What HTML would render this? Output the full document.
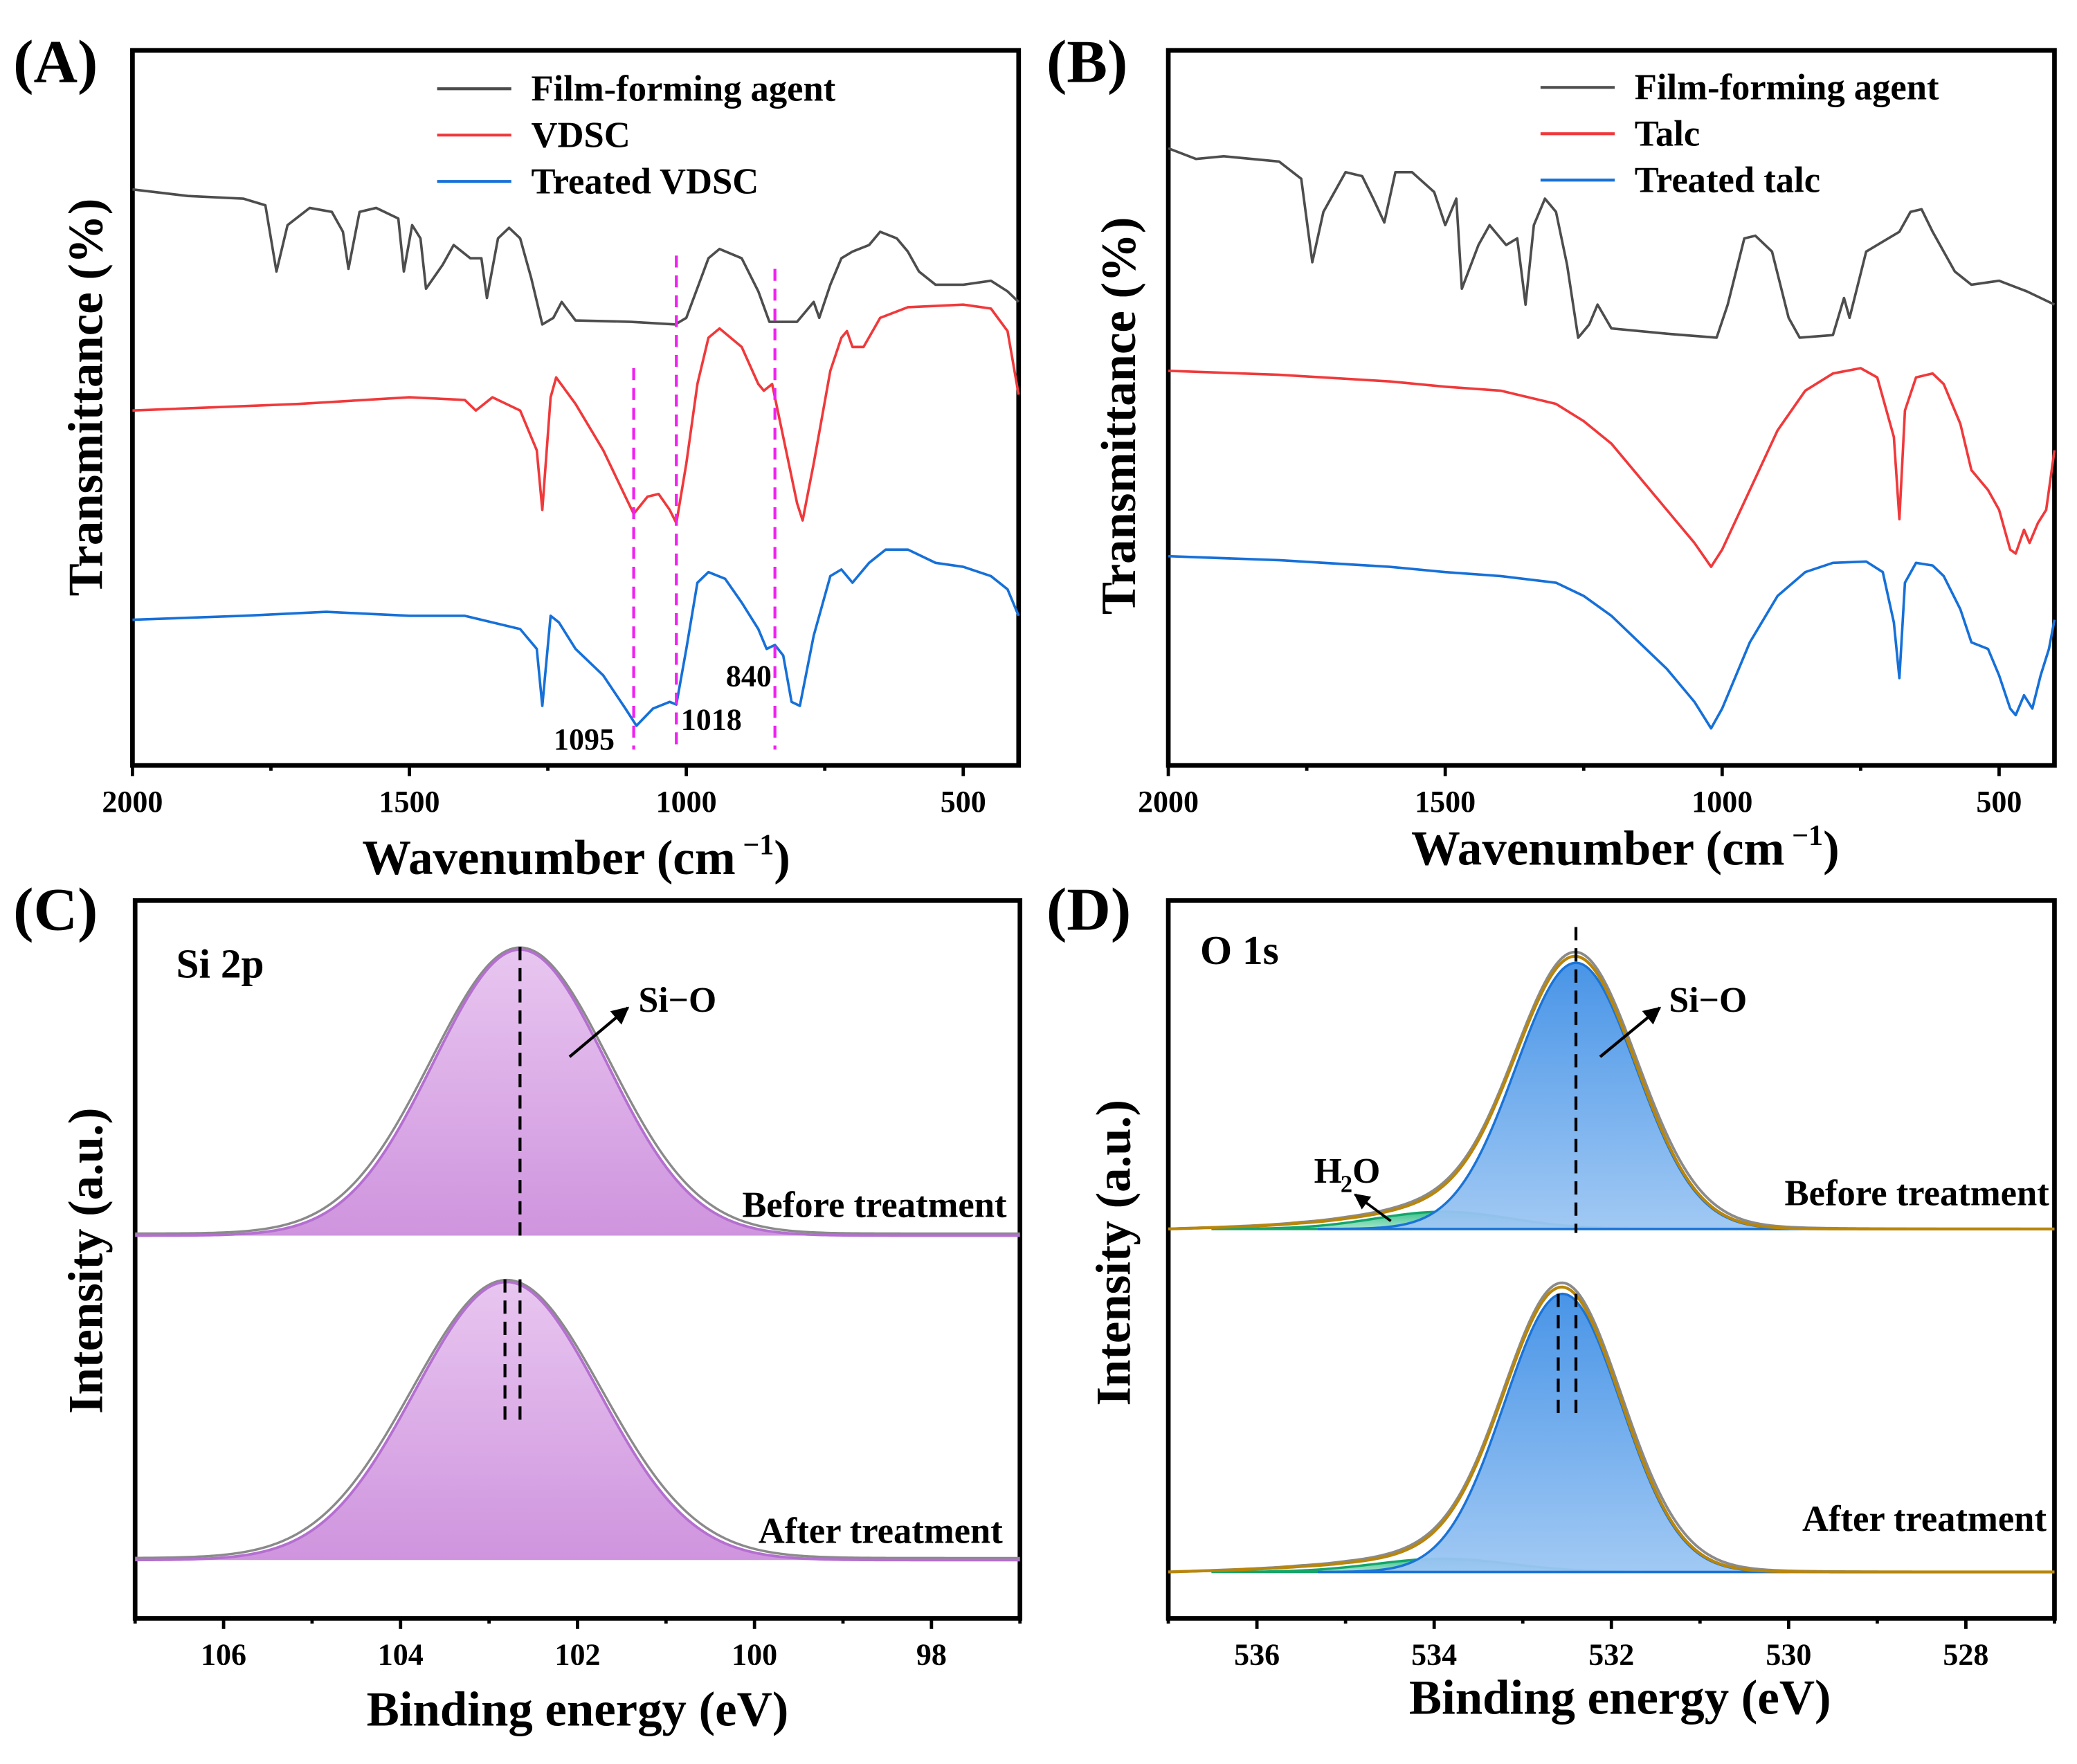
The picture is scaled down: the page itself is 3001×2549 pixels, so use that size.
<!DOCTYPE html>
<html><head><meta charset="utf-8"><style>
html,body{margin:0;padding:0;background:#fff;}
svg{display:block;}
text{font-family:"Liberation Serif",serif;font-weight:bold;fill:#000;}
</style></head><body>
<svg id="fig" width="3001" height="2549" viewBox="0 0 1568 1332" preserveAspectRatio="none" xmlns="http://www.w3.org/2000/svg">
<defs>
<linearGradient id="gPurple" x1="0" y1="0" x2="0" y2="1"><stop offset="0" stop-color="#e8c6f0"/><stop offset="1" stop-color="#cf94de"/></linearGradient>
<linearGradient id="gBlue" x1="0" y1="0" x2="0" y2="1"><stop offset="0" stop-color="#3f8fe6"/><stop offset="1" stop-color="#9cc6f3"/></linearGradient>
<linearGradient id="gGreen" x1="0" y1="0" x2="0" y2="1"><stop offset="0" stop-color="#3ec38e"/><stop offset="1" stop-color="#a6e6cc"/></linearGradient>
<marker id="arr" viewBox="0 0 10 10" refX="9" refY="5" markerWidth="6" markerHeight="6" orient="auto"><path d="M0,0 L10,5 L0,10 z" fill="#000"/></marker>
</defs>
</svg>
<script>
// ---------- FTIR data (wavenumber cm-1, transmittance a.u.) ----------
const wnA_film=[2000,1900,1800,1760,1740,1720,1680,1640,1620,1610,1590,1560,1520,1510,1495,1480,1470,1440,1420,1390,1370,1360,1340,1320,1300,1280,1260,1240,1225,1200,1100,1020,1000,960,940,900,870,850,800,770,760,740,720,700,670,650,620,600,580,550,500,450,420,400];
const tA_film=[435,430,428,423,373,408,421,418,403,375,418,421,413,373,408,398,360,378,393,383,383,353,398,406,398,368,333,338,350,336,335,333,338,383,390,383,358,335,335,350,338,363,383,388,393,403,398,388,373,363,363,366,358,350];
const wnA_vdsc=[2000,1700,1500,1400,1380,1350,1300,1270,1260,1245,1235,1200,1150,1110,1095,1070,1050,1030,1018,1000,980,960,940,900,870,860,845,830,800,790,770,740,720,710,700,680,650,600,500,450,420,400];
const tA_vdsc=[268,273,278,276,268,278,268,238,193,278,293,273,238,203,190,203,205,193,183,228,288,323,330,316,288,283,288,258,198,185,228,298,323,328,316,316,338,346,348,345,328,280];
const wnA_trt=[2000,1800,1650,1500,1400,1300,1270,1260,1245,1230,1200,1150,1110,1090,1060,1030,1018,1000,980,960,930,900,870,855,840,825,810,795,770,740,720,700,670,640,600,550,500,450,420,400];
const tA_trt=[110,113,116,113,113,103,88,45,113,108,88,68,43,30,43,48,46,88,138,146,141,123,103,88,91,83,48,45,98,143,148,138,153,163,163,153,150,143,133,113];
const wnB_film=[2000,1950,1900,1800,1760,1740,1720,1680,1650,1630,1610,1590,1560,1520,1500,1480,1470,1440,1420,1390,1370,1355,1340,1320,1300,1280,1260,1240,1225,1200,1100,1010,990,960,940,910,880,860,800,780,770,740,700,680,660,640,620,600,580,550,500,450,400];
const tB_film=[466,458,460,456,443,380,418,448,445,428,410,448,448,433,408,428,360,393,408,393,398,348,408,428,418,378,323,333,348,330,326,323,348,398,400,388,338,323,325,353,338,388,398,403,418,420,403,388,373,363,366,358,348];
const wnB_talc=[2000,1800,1600,1500,1400,1300,1250,1200,1150,1100,1050,1020,1000,950,900,850,800,750,720,690,680,670,650,620,600,570,550,520,500,480,470,455,445,430,415,400];
const tB_talc=[298,295,290,286,283,273,260,243,218,193,168,150,163,208,253,283,296,300,293,248,186,268,293,296,288,258,223,208,193,163,160,178,168,183,193,238];
const wnB_trt=[2000,1800,1600,1500,1400,1300,1250,1200,1150,1100,1050,1020,1000,950,900,850,800,740,710,690,680,670,650,620,600,570,550,520,500,480,470,455,440,425,410,400];
const tB_trt=[158,155,150,146,143,138,128,113,93,73,48,28,43,93,128,146,153,154,146,108,66,138,153,151,143,118,93,88,68,43,38,53,43,68,88,110];
const peaksA=[1095,1018,840];
const tickWN=[2000,1500,1000,500];
// ---------- XPS fit parameters (eV, intensity a.u., FWHM eV) ----------
const si_center=[102.65,102.80];
const si_height=[216,210];
const si_fwhm=[2.3,2.45];
const si_base=[289,44];
const o_main_center=[532.4,532.55];
const o_main_height=[201,210];
const o_fwhm=[1.6,1.55];
const o_h2o_center=[533.9,533.9];
const o_h2o_height=[13,10];
const o_h2o_fwhm=[1.8,1.8];
const o_base=[294,35];
const siDash=[[102.65],[102.82,102.65]];
const oDash=[[532.4],[532.6,532.4]];
const tickSi=[106,104,102,100,98];
const tickO=[536,534,532,530,528];

const NS="http://www.w3.org/2000/svg";
const svg=document.getElementById('fig');
function el(tag,attrs,parent){const e=document.createElementNS(NS,tag);for(const k in attrs)e.setAttribute(k,attrs[k]);(parent||svg).appendChild(e);return e;}
function txt(x,y,s,size,parent,anchor){const t=el('text',{x:x,y:y,'font-size':size,'text-anchor':anchor||'start'},parent);t.textContent=s;return t;}
function supTitle(x,y,name){
  const t=el('text',{x:x,y:y,'font-size':37,'text-anchor':'middle'});
  
  
  const a=el('tspan',{},t);a.textContent='Wavenumber (cm';
  const b=el('tspan',{dy:-15,'font-size':22},t);b.textContent=' −1';
  const c=el('tspan',{dy:15},t);c.textContent=')';
  return t;
}

function panel(box,xd,yd){
  return {box:box,
    sx:v=>box.x0+(v-xd[0])/(xd[1]-xd[0])*(box.x1-box.x0),
    sy:v=>box.y1-(v-yd[0])/(yd[1]-yd[0])*(box.y1-box.y0)};
}
function frame(p,name,ticks,minorStep,xd){
  const g=el('g',{});
  
  
  const b=p.box;
  el('rect',{x:b.x0,y:b.y0,width:b.x1-b.x0,height:b.y1-b.y0,fill:'none',stroke:'#000','stroke-width':3.5},g);
  const lo=Math.min(xd[0],xd[1]),hi=Math.max(xd[0],xd[1]);
  for(let v=Math.ceil(lo/minorStep)*minorStep;v<=hi;v+=minorStep){
    const major=ticks.includes(Math.round(v*100)/100);
    const x=p.sx(v);
    el('line',{x1:x,x2:x,y1:b.y1,y2:b.y1+(major?8:4),stroke:'#000','stroke-width':2.5},g);
  }
  ticks.forEach(v=>{const t=txt(p.sx(v),b.y1+35,String(v),23,g,'middle');});
  return g;
}
function linePath(p,xs,ys,color,name,w){
  let d='';xs.forEach((x,i)=>{d+=(i?'L':'M')+p.sx(x).toFixed(2)+','+p.sy(ys[i]).toFixed(2);});
  const e=el('path',{d:d,fill:'none',stroke:color,'stroke-width':w||1.9,'stroke-linejoin':'round'});
  
  
  return e;
}
function legend(x,y,items){
  items.forEach((it,i)=>{
    const l=el('line',{x1:x,x2:x+56,y1:y+i*35,y2:y+i*35,stroke:it[1],'stroke-width':2.2});
    
    
    const t=txt(x+71,y+i*35+9,it[0],27.5);
    
    
  });
}

// ---- Panel A ----
const pA=panel({x0:100,x1:769,y0:38,y1:578},[2000,400],[0,540]);
frame(pA,'panel-a',tickWN,250,[2000,400]);
linePath(pA,wnA_film,tA_film,'#4d4d4d','film-agent-curve-a');
linePath(pA,wnA_vdsc,tA_vdsc,'#f0393b','vdsc-curve');
linePath(pA,wnA_trt,tA_trt,'#1670d8','treated-vdsc-curve');
const dashTop=[300,385,375];
peaksA.forEach((w,i)=>{const l=el('line',{x1:pA.sx(w),x2:pA.sx(w),y1:pA.sy(dashTop[i]),y2:pA.sy(12),stroke:'#f020f0','stroke-width':2.2,'stroke-dasharray':'9,6'});
  });
txt(418,566,'1095',23);txt(514,551,'1018',23);txt(548,518,'840',23);
legend(330,67,[['Film-forming agent','#4d4d4d'],['VDSC','#f0393b'],['Treated VDSC','#1670d8']]);
txt(10,62,'(A)',46);
const ytA=txt(0,0,'Transmittance (%)',37,null,'middle');ytA.setAttribute('transform','translate(77,300) rotate(-90)');
supTitle(435,660,'x-axis-title-a');

// ---- Panel B ----
const pB=panel({x0:882,x1:1551,y0:38,y1:578},[2000,400],[0,540]);
frame(pB,'panel-b',tickWN,250,[2000,400]);
linePath(pB,wnB_film,tB_film,'#4d4d4d','film-agent-curve-b');
linePath(pB,wnB_talc,tB_talc,'#f0393b','talc-curve');
linePath(pB,wnB_trt,tB_trt,'#1670d8','treated-talc-curve');
legend(1163,66,[['Film-forming agent','#4d4d4d'],['Talc','#f0393b'],['Treated talc','#1670d8']]);
txt(790,62,'(B)',46);
const ytB=txt(0,0,'Transmittance (%)',37,null,'middle');ytB.setAttribute('transform','translate(857,314) rotate(-90)');
supTitle(1227,653,'x-axis-title-b');

// ---- XPS helpers ----
function gauss(x,c,h,f){const s=f/2.3548;return h*Math.exp(-0.5*((x-c)/s)**2);}
function curve(p,xd,fn,n){const pts=[];for(let i=0;i<=n;i++){const x=xd[0]+(xd[1]-xd[0])*i/n;pts.push([p.sx(x),p.sy(fn(x))]);}return pts;}
function pathFrom(pts){return pts.map((q,i)=>(i?'L':'M')+q[0].toFixed(2)+','+q[1].toFixed(2)).join('');}

// ---- Panel C ----
const pC=panel({x0:102,x1:770,y0:680,y1:1222},[107,97],[0,542]);
frame(pC,'panel-c',tickSi,1,[107,97]);
for(let k=0;k<2;k++){
  const b=si_base[k],c=si_center[k],h=si_height[k],f=si_fwhm[k];
  const raw=x=>b+gauss(x,c,h,f*1.03)+1.5;
  const fit=x=>b+gauss(x,c,h,f);
  const pts=curve(pC,[107,97],fit,300);
  const area=el('path',{d:pathFrom(pts)+'L'+pC.sx(97)+','+pC.sy(b)+'L'+pC.sx(107)+','+pC.sy(b)+'Z',fill:'url(#gPurple)',stroke:'none'});
  
  const r=el('path',{d:pathFrom(curve(pC,[107,97],raw,300)),fill:'none',stroke:'#8a8a8a','stroke-width':1.8});
  
  const fl=el('path',{d:pathFrom(pts),fill:'none',stroke:'#b46fd0','stroke-width':2});
  
  siDash[k].forEach(v=>{const top=b+h+2;el('line',{x1:pC.sx(v),x2:pC.sx(v),y1:pC.sy(top),y2:pC.sy(k?b+100:b-1),stroke:'#000','stroke-width':2.2,'stroke-dasharray':'10,6'});});
}
txt(133,738,'Si 2p',31);
el('line',{x1:430,y1:798,x2:474,y2:761,stroke:'#000','stroke-width':2.2,'marker-end':'url(#arr)'});
txt(482,764,'Si−O',27);
txt(760,919,'Before treatment',27.5,null,'end');txt(757,1165,'After treatment',27.5,null,'end');
txt(10,702,'(C)',46);
const ytC=txt(0,0,'Intensity (a.u.)',37,null,'middle');ytC.setAttribute('transform','translate(77,952) rotate(-90)');
const xtC=txt(436,1303,'Binding energy (eV)',37,null,'middle');

// ---- Panel D ----
const pD=panel({x0:882,x1:1551,y0:680,y1:1222},[537,527],[0,542]);
frame(pD,'panel-d',tickO,1,[537,527]);
for(let k=0;k<2;k++){
  const b=o_base[k];
  const main=x=>b+gauss(x,o_main_center[k],o_main_height[k],o_fwhm[k]);
  const h2o=x=>b+gauss(x,o_h2o_center[k],o_h2o_height[k],o_h2o_fwhm[k]);
  const env=x=>main(x)+h2o(x)-b+3*Math.max(0,Math.min(1,(x-533.5)/1.5))*(1-Math.max(0,(x-535.5)/1.5))+gauss(x,o_main_center[k],3,o_fwhm[k]*1.5);
  const raw=x=>env(x)+gauss(x,o_main_center[k]+0.3,3,o_fwhm[k]*2.4)+gauss(x,o_main_center[k]-1.1,3,1.2);
  const gp=curve(pD,[536.5,530],h2o,200);
  el('path',{d:pathFrom(gp)+'L'+pD.sx(530)+','+pD.sy(b)+'L'+pD.sx(536.5)+','+pD.sy(b)+'Z',fill:'url(#gGreen)',stroke:'#14a56a','stroke-width':1.8});
  const mp=curve(pD,[535.3,527.3],main,300);
  const ma=el('path',{d:pathFrom(mp)+'L'+pD.sx(527.3)+','+pD.sy(b)+'L'+pD.sx(535.3)+','+pD.sy(b)+'Z',fill:'url(#gBlue)',stroke:'#1a73d6','stroke-width':1.8,'fill-opacity':0.95});
  
  el('path',{d:pathFrom(curve(pD,[537,527],raw,400)),fill:'none',stroke:'#8a8a8a','stroke-width':2});
  const ep=el('path',{d:pathFrom(curve(pD,[537,527],env,400)),fill:'none',stroke:'#b8860b','stroke-width':2.2});
  
  oDash[k].forEach(v=>{const top=b+o_main_height[k]+(k?0:27);el('line',{x1:pD.sx(v),x2:pD.sx(v),y1:pD.sy(top),y2:pD.sy(k?b+115:b-3),stroke:'#000','stroke-width':2.2,'stroke-dasharray':'10,6'});});
}
txt(906,728,'O 1s',31);
el('line',{x1:1208,y1:798,x2:1253,y2:761,stroke:'#000','stroke-width':2.2,'marker-end':'url(#arr)'});
txt(1260,764,'Si−O',27);
el('line',{x1:1050,y1:922,x2:1023,y2:902,stroke:'#000','stroke-width':2,'marker-end':'url(#arr)'});
txt(992,893,'H',27);txt(1012,900,'2',18);txt(1021,893,'O',27);
txt(1547,910,'Before treatment',27.5,null,'end');txt(1545,1156,'After treatment',27.5,null,'end');
txt(790,702,'(D)',46);
const ytD=txt(0,0,'Intensity (a.u.)',37,null,'middle');ytD.setAttribute('transform','translate(853,946) rotate(-90)');
const xtD=txt(1223,1294,'Binding energy (eV)',37,null,'middle');
</script>
</body></html>
